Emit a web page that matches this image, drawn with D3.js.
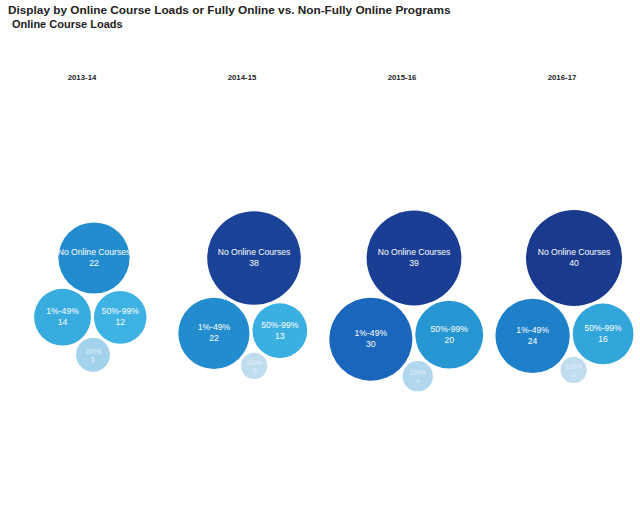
<!DOCTYPE html>
<html>
<head>
<meta charset="utf-8">
<script src="https://cdn.jsdelivr.net/npm/d3@7/dist/d3.min.js"></script>
<style>
  html, body { margin: 0; padding: 0; background: #fff; }
  svg { display: block; font-family: "Liberation Sans", Arial, sans-serif; }
</style>
</head>
<body>
<svg id="chart" width="640" height="512"></svg>
<script>
// Academic years shown as columns
const years = ["2013-14", "2014-15", "2015-16", "2016-17"];
// Online course-load groups (one bubble per group per year)
const loadGroups = ["No Online Courses", "1%-49%", "50%-99%", "100%"];
// Program counts per group, one value per year
const noOnline   = [22, 38, 39, 40];
const pct1to49   = [14, 22, 30, 24];
const pct50to99  = [12, 13, 20, 16];
const pct100     = [5, 3, 4, 3];

const title = "Display by Online Course Loads or Fully Online vs. Non-Fully Online Programs";
const subtitle = "Online Course Loads";

const svg = d3.select("#chart");
const W = 640;

const series = [noOnline, pct1to49, pct50to99, pct100];

// Column positions
const x = d3.scaleBand().domain(years).range([0, W]);

// Bubble area encodes the count
const r = d3.scaleSqrt().domain([0, 40]).range([0, 48]);

// Darker blue for larger counts
const color = d3.scaleLinear()
  .domain([3, 12, 20, 24, 30, 40])
  .range(["#c0dcef", "#3db2e3", "#2797d3", "#1e80c8", "#1a66bd", "#1a3a8e"])
  .clamp(true);

// Titles
svg.append("text").attr("x", 8).attr("y", 14)
  .attr("font-size", 11.8).attr("font-weight", "bold").attr("fill", "#222")
  .text(title);
svg.append("text").attr("x", 12).attr("y", 28)
  .attr("font-size", 11).attr("font-weight", "bold").attr("fill", "#222")
  .text(subtitle);

// Column headers
svg.selectAll("text.year").data(years).enter().append("text")
  .attr("class", "year")
  .attr("x", d => x(d) + x.bandwidth() / 2 + 2)
  .attr("y", 80)
  .attr("text-anchor", "middle")
  .attr("font-size", 7.8).attr("font-weight", "bold").attr("fill", "#222")
  .text(d => d);

// Place a circle of radius rc tangent to circles a and b (gap g), on the chosen side
function tangentTo(a, b, rc, g, pick) {
  const da = a.r + rc + g, db = b.r + rc + g;
  const dx = b.x - a.x, dy = b.y - a.y;
  const d = Math.hypot(dx, dy);
  const t = (da * da - db * db + d * d) / (2 * d);
  const h = Math.sqrt(Math.max(0, da * da - t * t));
  const mx = a.x + dx * t / d, my = a.y + dy * t / d;
  const p1 = { x: mx - dy * h / d, y: my + dx * h / d };
  const p2 = { x: mx + dy * h / d, y: my - dx * h / d };
  return pick(p1, p2);
}

const gap = 3;
const angle = 118 * Math.PI / 180;
const topY = 258;

years.forEach((yr, i) => {
  const cx = x(yr) + x.bandwidth() / 2 + 14;
  const nodes = loadGroups.map((g, k) => ({ group: g, value: series[k][i], r: r(series[k][i]) }));
  const [big, left, right, small] = nodes;
  big.x = cx; big.y = topY;
  const dl = big.r + left.r + gap;
  left.x = big.x + dl * Math.cos(angle);
  left.y = big.y + dl * Math.sin(angle);
  Object.assign(right, tangentTo(big, left, right.r, gap, (p, q) => (p.x > q.x ? p : q)));
  Object.assign(small, tangentTo(left, right, small.r, gap, (p, q) => (p.y > q.y ? p : q)));

  const gCol = svg.append("g");
  const clipBase = "clip-" + i;
  const node = gCol.selectAll("g.node").data(nodes).enter().append("g")
    .attr("class", "node")
    .attr("transform", d => `translate(${d.x},${d.y})`);

  node.append("clipPath").attr("id", (d, k) => clipBase + "-" + k)
    .append("circle").attr("r", d => d.r);

  node.append("circle")
    .attr("r", d => d.r)
    .attr("fill", d => color(d.value));

  const lbl = node.append("text")
    .attr("clip-path", (d, k) => `url(#${clipBase}-${k})`)
    .attr("text-anchor", "middle")
    .attr("fill", d => d.value < 8 ? "#e4f0f8" : "#ffffff")
    .attr("font-size", d => d.value < 8 ? 6.5 : 8.6);
  lbl.append("tspan").attr("x", 0).attr("y", d => d.value < 8 ? -1 : -3).text(d => d.group);
  lbl.append("tspan").attr("x", 0).attr("y", d => d.value < 8 ? 7 : 8).text(d => d.value);
});
</script>
</body>
</html>
